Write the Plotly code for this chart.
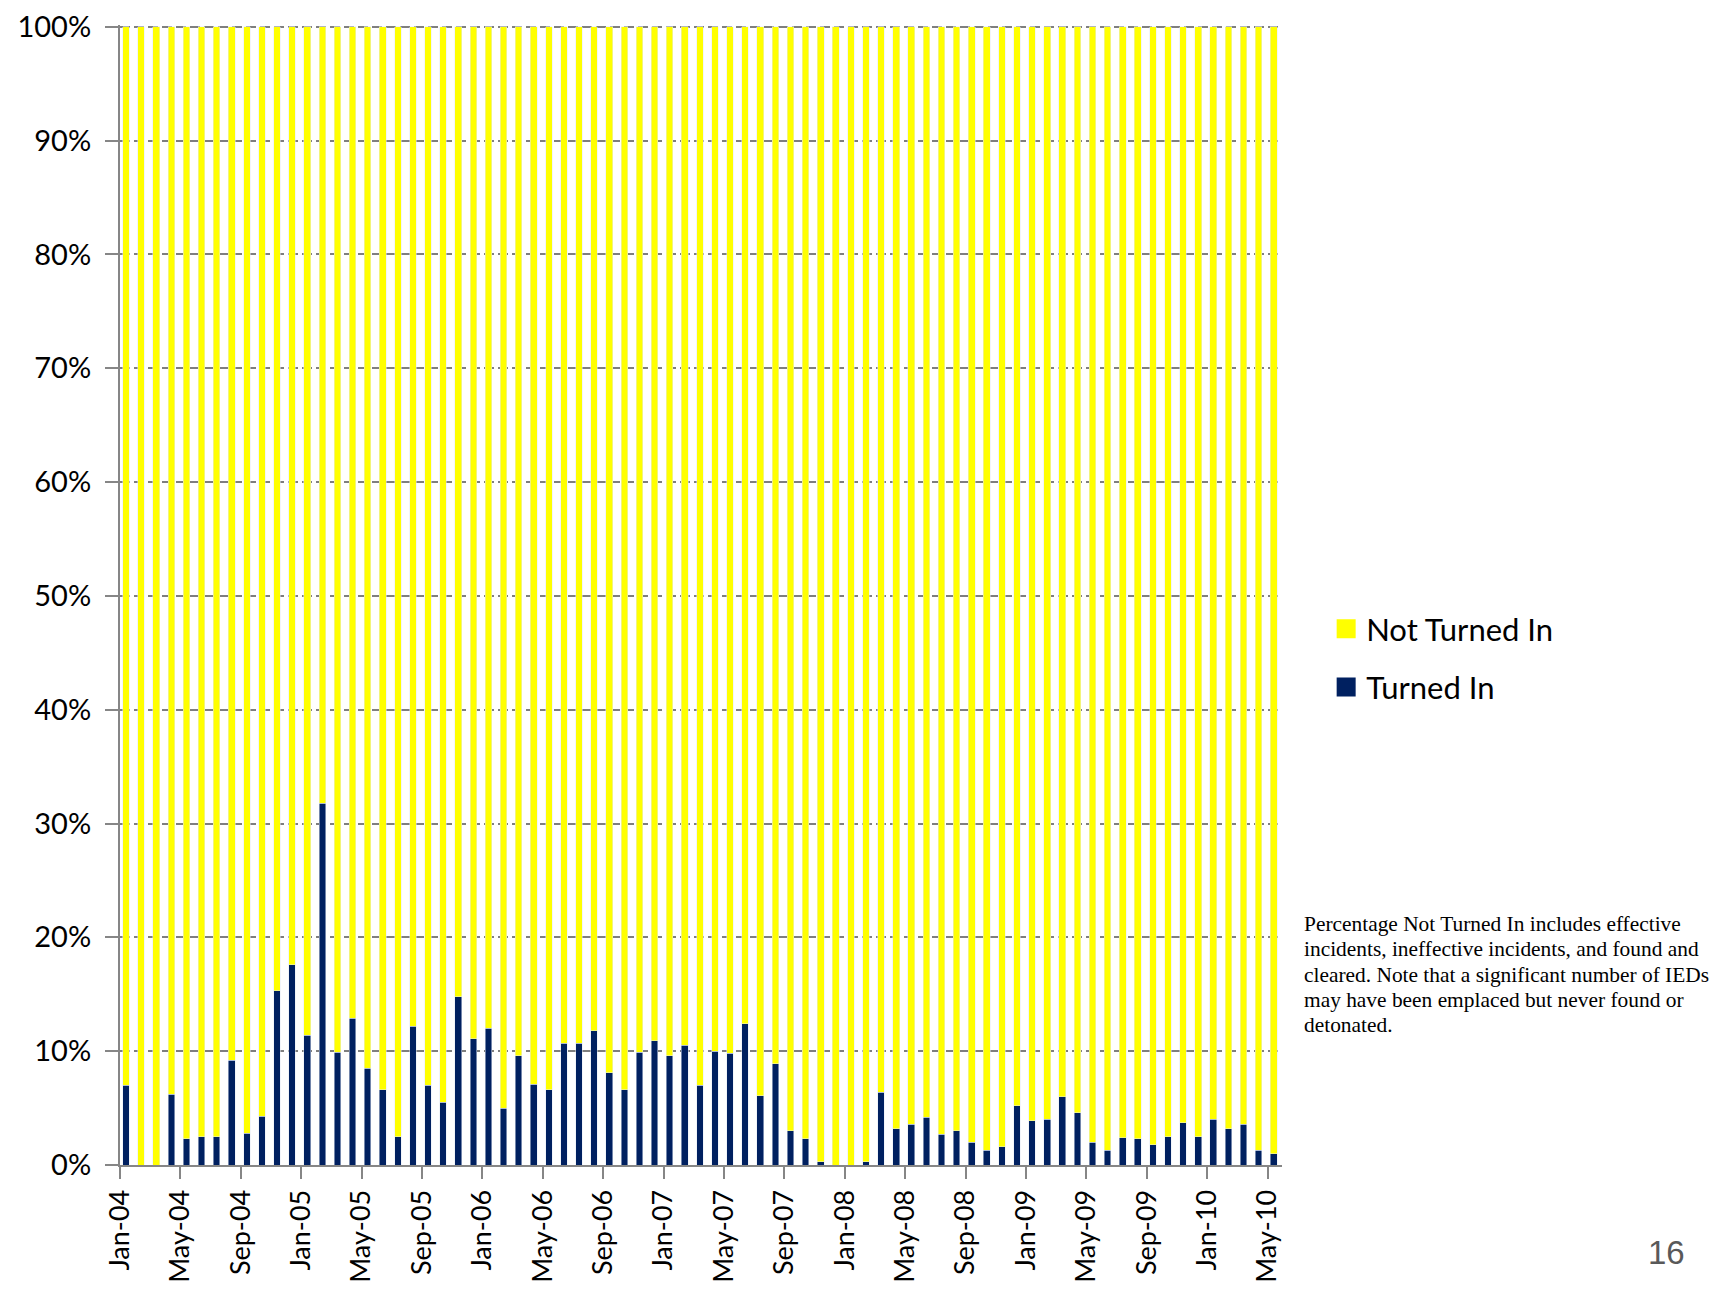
import plotly.graph_objects as go

months = ["Jan-04","Feb-04","Mar-04","Apr-04","May-04","Jun-04","Jul-04","Aug-04","Sep-04","Oct-04","Nov-04","Dec-04",
          "Jan-05","Feb-05","Mar-05","Apr-05","May-05","Jun-05","Jul-05","Aug-05","Sep-05","Oct-05","Nov-05","Dec-05",
          "Jan-06","Feb-06","Mar-06","Apr-06","May-06","Jun-06","Jul-06","Aug-06","Sep-06","Oct-06","Nov-06","Dec-06",
          "Jan-07","Feb-07","Mar-07","Apr-07","May-07","Jun-07","Jul-07","Aug-07","Sep-07","Oct-07","Nov-07","Dec-07",
          "Jan-08","Feb-08","Mar-08","Apr-08","May-08","Jun-08","Jul-08","Aug-08","Sep-08","Oct-08","Nov-08","Dec-08",
          "Jan-09","Feb-09","Mar-09","Apr-09","May-09","Jun-09","Jul-09","Aug-09","Sep-09","Oct-09","Nov-09","Dec-09",
          "Jan-10","Feb-10","Mar-10","Apr-10","May-10"]

turned_in = [7.0, 0.0, 0.0, 6.2, 2.3, 2.5, 2.5, 9.2, 2.8, 4.3, 15.3, 17.6,
             11.4, 31.8, 9.9, 12.9, 8.5, 6.6, 2.5, 12.2, 7.0, 5.5, 14.8, 11.1,
             12.0, 5.0, 9.6, 7.1, 6.6, 10.7, 10.7, 11.8, 8.1, 6.6, 9.9, 10.9,
             9.6, 10.5, 7.0, 10.0, 9.8, 12.4, 6.1, 8.9, 3.0, 2.3, 0.3, 0.0,
             0.0, 0.3, 6.4, 3.2, 3.6, 4.2, 2.7, 3.0, 2.0, 1.3, 1.6, 5.2,
             3.9, 4.0, 6.0, 4.6, 2.0, 1.3, 2.4, 2.3, 1.8, 2.5, 3.7, 2.5,
             4.0, 3.2, 3.6, 1.3, 1.0]
not_turned_in = [100 - v for v in turned_in]

tick_labels = months[::4]
series_names = ["Not Turned In", "Turned In"]
series_colors = {"Not Turned In": "#FFFF00", "Turned In": "#002060"}

note_lines = ["Percentage Not Turned In includes effective",
              "incidents, ineffective incidents, and found and",
              "cleared. Note that a significant number of IEDs",
              "may have been emplaced but never found or",
              "detonated."]

x = list(range(len(months)))
tickvals = [i - 0.4 for i in x[::4]]

T, B = 17, 141
PLOT_BOTTOM = 1165
PLOT_H = 1298 - T - B

def py2paper(py):
    return (PLOT_BOTTOM - py) / PLOT_H

fig = go.Figure()
fig.add_trace(go.Bar(x=x, y=turned_in, name="Turned In", marker_color=series_colors["Turned In"],
                     width=0.44, showlegend=False, customdata=months,
                     hovertemplate="%{customdata}: %{y:.1f}%<extra>Turned In</extra>"))
fig.add_trace(go.Bar(x=x, y=not_turned_in, name="Not Turned In", marker_color=series_colors["Not Turned In"],
                     width=0.44, showlegend=False, customdata=months,
                     hovertemplate="%{customdata}: %{y:.1f}%<extra>Not Turned In</extra>"))
# legend entries (square swatches like the original)
for nm in series_names:
    fig.add_trace(go.Scatter(x=[None], y=[None], mode="markers", name=nm, legendgroup=nm,
                             marker=dict(symbol="square", size=16, color=series_colors[nm],
                                         line=dict(color=series_colors[nm], width=3))))

fig.update_layout(
    width=1725, height=1298,
    margin=dict(l=112, r=451, t=T, b=B, autoexpand=False),
    barmode="stack",
    plot_bgcolor="white", paper_bgcolor="white",
    font=dict(family="Lato, Open Sans, sans-serif", size=27, color="#000000"),
    legend=dict(x=1.038, y=py2paper(602), xanchor="left", yanchor="top",
                traceorder="grouped", tracegroupgap=15,
                font=dict(size=31, color="#000000")),
    showlegend=True,
)

fig.update_xaxes(
    range=[-0.4, 76.55], automargin=False,
    tickmode="array", tickvals=tickvals, ticktext=tick_labels,
    tickangle=-90, ticks="outside", ticklen=12, tickcolor="#868686", tickwidth=2,
    showline=True, linecolor="#868686", linewidth=2,
    showgrid=False, zeroline=False,
    tickfont=dict(size=27),
)
fig.update_yaxes(
    range=[0, 100.15], automargin=False,
    tickmode="array", tickvals=list(range(0, 101, 10)),
    ticktext=[f"{v}%" for v in range(0, 101, 10)],
    ticks="outside", ticklen=13, tickcolor="#868686", tickwidth=2,
    ticklabelstandoff=8, ticklabeloverflow="allow",
    showline=True, linecolor="#868686", linewidth=2,
    showgrid=True, gridcolor="#7f7f7f", gridwidth=2, griddash="10px,4px",
    zeroline=False,
    tickfont=dict(size=29),
)

line_px = [924, 949, 975, 1000, 1025]
for txt, py in zip(note_lines, line_px):
    fig.add_annotation(
        xref="paper", yref="paper", x=1.017, y=py2paper(py),
        xanchor="left", yanchor="middle", align="left", showarrow=False,
        text=txt,
        font=dict(family="Liberation Serif, Times New Roman, serif", size=21.4, color="#000000"),
    )
fig.add_annotation(
    xref="paper", yref="paper", x=1.331, y=py2paper(1252), xanchor="center", yanchor="middle",
    showarrow=False, text="16",
    font=dict(family="Liberation Sans, Arial, sans-serif", size=33, color="#595959"),
)

fig.write_html("out.html")
